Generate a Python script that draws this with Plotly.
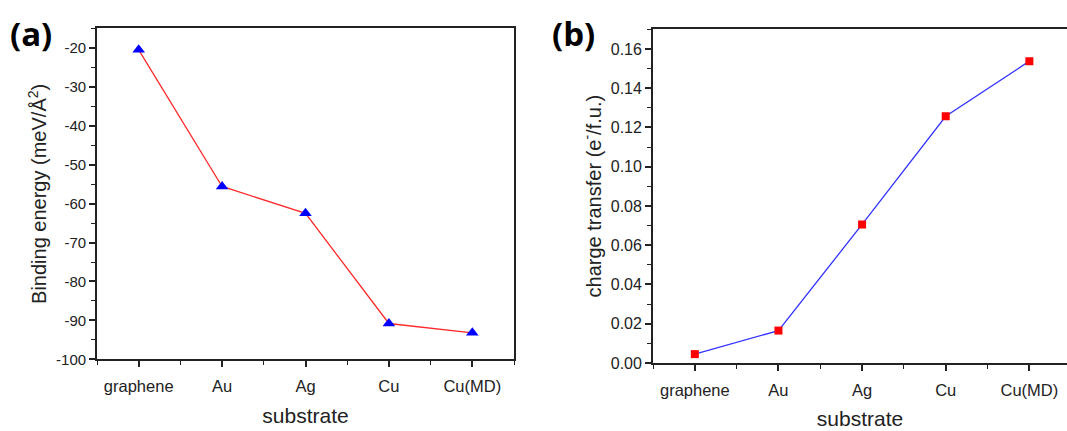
import plotly.graph_objects as go

categories = ["graphene", "Au", "Ag", "Cu", "Cu(MD)"]
binding_energy = [-20.5, -55.6, -62.5, -90.8, -93.2]
charge_transfer = [0.0045, 0.0165, 0.0706, 0.1257, 0.1538]

a_yticks = [-20, -30, -40, -50, -60, -70, -80, -90, -100]
a_yticklabels = ["-20", "-30", "-40", "-50", "-60", "-70", "-80", "-90", "-100"]
b_yticks = [0.00, 0.02, 0.04, 0.06, 0.08, 0.10, 0.12, 0.14, 0.16]
b_yticklabels = ["0.00", "0.02", "0.04", "0.06", "0.08", "0.10", "0.12", "0.14", "0.16"]

xpos = list(range(len(categories)))
W, H = 1067, 431
FONT = "Arial"
AXC = "#222222"
TXT = "#222222"

fig = go.Figure()
fig.add_trace(go.Scatter(
    x=xpos, y=binding_energy, mode="lines+markers", xaxis="x", yaxis="y",
    line=dict(color="#ff2a2a", width=1.3),
    marker=dict(symbol="triangle-up", size=11, color="#0000ff"),
    showlegend=False))
fig.add_trace(go.Scatter(
    x=xpos, y=charge_transfer, mode="lines+markers", xaxis="x2", yaxis="y2",
    line=dict(color="#3333ff", width=1.3),
    marker=dict(symbol="square", size=8, color="#ff0000"),
    showlegend=False))

def xax(domain, rng):
    return dict(domain=domain, range=rng, tickmode="array", tickvals=xpos,
                ticktext=categories, ticks="outside", ticklen=6, tickwidth=1.5,
                tickcolor=AXC, showline=True, linecolor=AXC, linewidth=1.8,
                mirror=True, showgrid=False, zeroline=False, ticklabelstandoff=5,
                tickfont=dict(family=FONT, size=16.5, color=TXT),
                minor=dict(ticks="outside", ticklen=4, tickwidth=1.3, tickcolor=AXC,
                           tickmode="array", tickvals=[-0.5, 0.5, 1.5, 2.5, 3.5, 4.5],
                           showgrid=False),
                title=dict(text="substrate", font=dict(family=FONT, size=21, color=TXT),
                           standoff=14))

def yax(domain, rng, tv, tt, minor_dtick, title, mirror, anchor, fs):
    return dict(domain=domain, range=rng, anchor=anchor, tickmode="array", tickvals=tv,
                ticktext=tt, ticks="outside", ticklen=6, tickwidth=1.5, tickcolor=AXC,
                showline=True, linecolor=AXC, linewidth=1.8, mirror=mirror,
                showgrid=False, zeroline=False,
                tickfont=dict(family=FONT, size=fs, color=TXT),
                minor=dict(ticks="outside", ticklen=4, tickwidth=1.3, tickcolor=AXC,
                           dtick=minor_dtick, showgrid=False),
                title=dict(text=title, font=dict(family=FONT, size=20, color=TXT),
                           standoff=4))

fig.update_layout(
    width=W, height=H, margin=dict(l=0, r=0, t=0, b=0),
    paper_bgcolor="white", plot_bgcolor="white",
    xaxis=dict(xax([97 / W, 514 / W], [-0.5, 4.5]), anchor="y"),
    yaxis=yax([(H - 367) / H, (H - 29) / H], [-100, -15], a_yticks, a_yticklabels, 5,
              "Binding energy (meV/Å<sup>2</sup>)", True, "x", 15),
    xaxis2=dict(xax([653 / W, 1.0], [-0.5, 4.45]), anchor="y2"),
    yaxis2=yax([(H - 370.7) / H, (H - 30) / H], [0, 0.17], b_yticks, b_yticklabels, 0.01,
               "charge transfer (e<sup>-</sup>/f.u.)", False, "x2", 16),
    annotations=[
        dict(text="<b>(a)</b>", x=8 / W, y=1 - 9 / H, xref="paper", yref="paper",
             xanchor="left", yanchor="top", showarrow=False,
             font=dict(family="Open Sans, sans-serif", size=33, color="black")),
        dict(text="<b>(b)</b>", x=550 / W, y=1 - 9 / H, xref="paper", yref="paper",
             xanchor="left", yanchor="top", showarrow=False,
             font=dict(family="Open Sans, sans-serif", size=33, color="black")),
    ],
)

fig.write_html("out.html")
